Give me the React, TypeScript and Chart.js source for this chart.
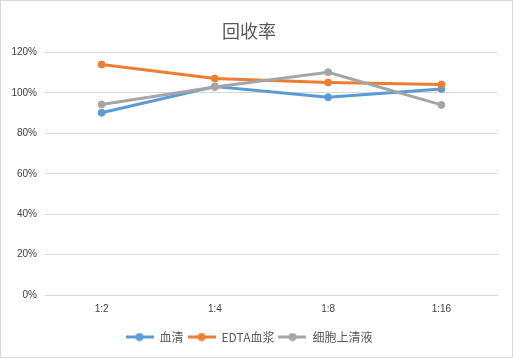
import React, { useEffect, useRef } from 'react';
import { Chart, registerables } from 'chart.js';
Chart.register(...registerables);

const categories = ['1:2', '1:4', '1:8', '1:16'];
const serum = [90.2, 103.2, 97.9, 102.0];
const edtaPlasma = [114.1, 107.2, 105.2, 104.2];
const supernatant = [94.3, 103.0, 110.3, 94.1];
const seriesNames = ['血清', 'EDTA血浆', '细胞上清液'];
const seriesColors = ['#5B9BD5', '#ED7D31', '#A5A5A5'];
const titleText = '回收率';
const yMin = 0;
const yMax = 120;
const yStep = 20;

function legendIcon(color: string): HTMLCanvasElement {
  const c = document.createElement('canvas');
  c.width = 28;
  c.height = 9;
  const ctx = c.getContext('2d')!;
  ctx.strokeStyle = color;
  ctx.lineWidth = 3;
  ctx.beginPath();
  ctx.moveTo(0, 4.5);
  ctx.lineTo(28, 4.5);
  ctx.stroke();
  ctx.fillStyle = color;
  ctx.beginPath();
  ctx.arc(14, 4.5, 4, 0, Math.PI * 2);
  ctx.fill();
  return c;
}

const frame = {
  id: 'frame',
  beforeDraw(chart: any) {
    const { ctx, width, height } = chart;
    ctx.save();
    ctx.fillStyle = '#ffffff';
    ctx.fillRect(0, 0, width, height);
    ctx.strokeStyle = '#d9d9d9';
    ctx.lineWidth = 1;
    ctx.strokeRect(0.5, 0.5, width - 1, height - 1);
    ctx.restore();
  },
};

export default function App() {
  const ref = useRef<HTMLCanvasElement>(null);
  useEffect(() => {
    const values = [serum, edtaPlasma, supernatant];
    const font = '"Liberation Sans", "Noto Sans CJK SC", sans-serif';
    const chart = new Chart(ref.current!, {
      type: 'line',
      data: {
        labels: categories,
        datasets: values.map((v, i) => ({
          label: seriesNames[i],
          data: v,
          borderColor: seriesColors[i],
          backgroundColor: seriesColors[i],
          pointBackgroundColor: seriesColors[i],
          pointBorderColor: seriesColors[i],
          borderWidth: 3,
          pointRadius: 3.5,
          pointBorderWidth: 1,
          tension: 0,
          order: 3 - i,
        })),
      },
      options: {
        responsive: false,
        animation: false,
        layout: { padding: { left: 0, right: 15, top: 0, bottom: 5 } },
        plugins: {
          tooltip: { enabled: false },
          title: {
            display: true,
            text: titleText,
            color: '#595959',
            font: { family: '"Noto Sans CJK SC", sans-serif', size: 18, weight: 'normal' },
            padding: { top: 20, bottom: 11 },
          },
          legend: {
            display: true,
            position: 'bottom',
            labels: {
              usePointStyle: true,
              pointStyleWidth: 28,
              padding: 4,
              color: '#595959',
              font: { family: '"Noto Sans CJK SC", sans-serif', size: 12 },
              generateLabels: (c: any) =>
                c.data.datasets.map((d: any, i: number) => ({
                  text: d.label,
                  fillStyle: d.borderColor,
                  strokeStyle: d.borderColor,
                  lineWidth: 0,
                  pointStyle: legendIcon(d.borderColor),
                  datasetIndex: i,
                  hidden: false,
                  fontColor: '#595959',
                })),
            },
          },
        },
        scales: {
          x: {
            offset: true,
            grid: { display: false, drawTicks: false },
            border: { display: false },
            afterFit: (s: any) => { s.height = 32; },
            ticks: { color: '#404040', font: { family: font, size: 10 }, padding: 8 },
          },
          y: {
            min: yMin,
            max: yMax,
            afterFit: (s: any) => { s.width = 45; },
            ticks: {
              stepSize: yStep,
              color: '#404040',
              padding: 8,
              font: { family: font, size: 10 },
              callback: (v: any) => v + '%',
            },
            grid: { color: '#d9d9d9', lineWidth: 1, drawTicks: false },
            border: { display: false },
          },
        },
      },
      plugins: [frame],
    } as any);
    return () => chart.destroy();
  }, []);
  return (
    <div style={{ position: 'fixed', left: 0, top: 0, width: 513, height: 358 }}>
      <canvas ref={ref} width={513} height={358} />
    </div>
  );
}
